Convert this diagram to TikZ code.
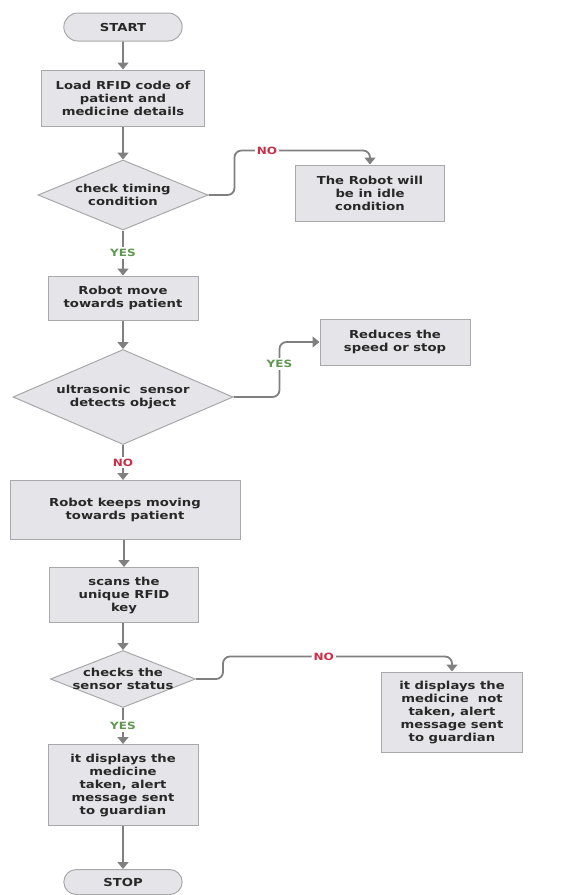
\documentclass[tikz,border=0pt]{standalone}
\usepackage{fontspec}
\setmainfont[FakeStretch=1.2,BoldFont={DejaVu Sans Bold}]{DejaVu Sans}
\usepackage{tikz}
\usetikzlibrary{shapes.geometric,shapes.misc,arrows.meta,calc}
\definecolor{boxfill}{RGB}{229,229,233}
\definecolor{boxline}{RGB}{168,168,170}
\definecolor{flowgray}{RGB}{128,128,128}
\definecolor{textgray}{RGB}{40,40,40}
\definecolor{nored}{RGB}{205,45,70}
\definecolor{yesgreen}{RGB}{95,150,80}

\begin{document}
\begin{tikzpicture}[x=1pt,y=-1pt,
        every node/.style={font=\bfseries\fontsize{11}{13}\selectfont, text=textgray, align=center},
        terminal/.style={rounded rectangle, draw=boxline, fill=boxfill, line width=1pt, minimum width=125pt, minimum height=28pt},
        process/.style={rectangle, draw=boxline, fill=boxfill, line width=1pt},
        decision/.style={diamond, draw=boxline, fill=boxfill, line width=1pt, inner sep=0pt},
        flow/.style={draw=flowgray, line width=1.8pt, -{Triangle[width=11pt,length=7pt]}},
        nolbl/.style={fill=white, text=nored, inner sep=2pt, font=\bfseries\fontsize{10}{11}\selectfont},
        yeslbl/.style={fill=white, text=yesgreen, inner sep=2pt, font=\bfseries\fontsize{10}{11}\selectfont}]
    \useasboundingbox (0,0) rectangle (577,895);

    \node [terminal] (start) at (123,27) {START};
    \node [process, minimum width=163pt, minimum height=56pt] (load) at (123,98) {Load RFID code of\\patient and\\medicine details};
    \node [decision, aspect=2.43, minimum width=170pt, minimum height=70pt] (timing) at (123,195) {check timing\\condition};
    \node [process, minimum width=149pt, minimum height=56pt] (idle) at (370,193) {The Robot will\\be in idle\\condition};
    \node [process, minimum width=150pt, minimum height=44pt] (move) at (123,298) {Robot move\\towards patient};
    \node [decision, aspect=2.32, minimum width=220pt, minimum height=95pt] (ultra) at (123,397) {ultrasonic\ \ sensor\\detects object};
    \node [process, minimum width=150pt, minimum height=46pt] (slow) at (395,342) {Reduces the\\speed or stop};
    \node [process, minimum width=230pt, minimum height=59pt] (keep) at (125,510) {Robot keeps moving\\towards patient};
    \node [process, minimum width=149pt, minimum height=55pt] (scan) at (124,595) {scans the\\unique RFID\\key};
    \node [decision, aspect=2.54, inner xsep=-10pt, minimum width=145pt, minimum height=57pt] (status) at (123,679) {checks the\\sensor status};
    \node [process, minimum width=141pt, minimum height=80pt] (nottaken) at (452,712) {it displays the\\medicine\ \ not\\taken, alert\\message sent\\to guardian};
    \node [process, minimum width=150pt, minimum height=81pt] (taken) at (123,785) {it displays the\\medicine\\taken, alert\\message sent\\to guardian};
    \node [terminal, minimum height=25pt] (stop) at (123,882) {STOP};

    \draw [flow] (start) -- (load);
    \draw [flow] (load) -- (timing);
    \draw [flow, rounded corners=7pt] (timing.east) -- ++(26,0) |- node [nolbl, pos=0.62] {NO} ($(idle.north)+(0,-14)$) -- (idle.north);
    \draw [flow] (timing) -- node [yeslbl] {YES} (move);
    \draw [flow] (move) -- (ultra);
    \draw [flow, rounded corners=7pt] (ultra.east) -- ++(46,0) |- node [yeslbl, pos=0.3] {YES} (slow.west);
    \draw [flow] (ultra.south) -- node [nolbl] {NO} (ultra.south |- keep.north);
    \draw [flow] (keep.south -| scan) -- (scan);
    \draw [flow] (scan.south -| status) -- (status);
    \draw [flow, rounded corners=7pt] (status.east) -- ++(27,0) |- node [nolbl, pos=0.72] {NO} ($(nottaken.north)+(0,-15)$) -- (nottaken.north);
    \draw [flow] (status) -- node [yeslbl] {YES} (taken);
    \draw [flow] (taken) -- (stop);
\end{tikzpicture}
\end{document}
